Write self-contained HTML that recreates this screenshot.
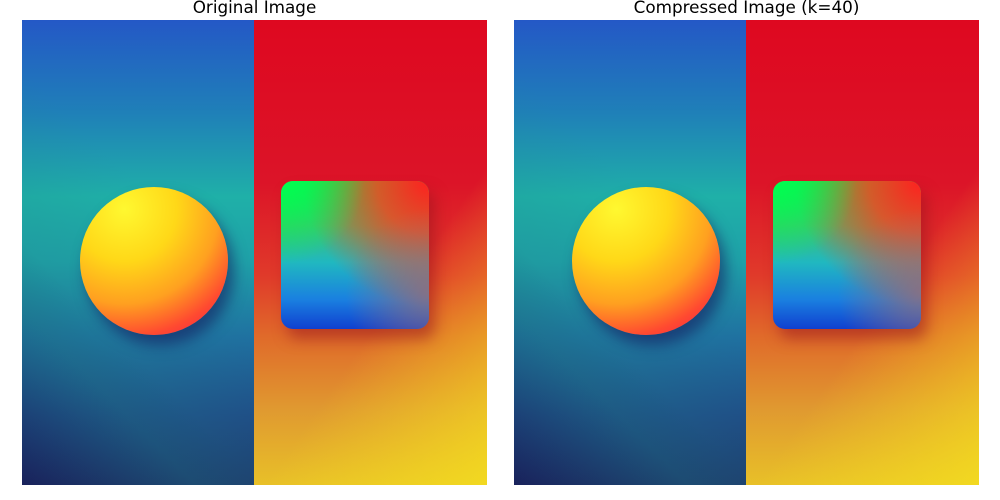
<!DOCTYPE html>
<html><head><meta charset="utf-8"><style>
body{margin:0;width:1000px;height:500px;background:#fff;position:relative;overflow:hidden;font-family:"DejaVu Sans","Liberation Sans",sans-serif}
.title{position:absolute;top:-3px;width:465px;text-align:center;font-size:16.8px;color:#000;line-height:20px}
.img{position:absolute;top:20px;width:465px;height:465px;overflow:hidden}
.lh{position:absolute;left:0;top:0;width:232px;height:465px;
background:linear-gradient(180deg,#2458c6 0%,#1f80b8 20%,#1fb0a8 38%,#1fa0a8 52%,#1f70a2 68%,#1f4486 85%,#1e2a66 100%)}
.lh2{position:absolute;left:0;top:0;width:232px;height:465px;
background:linear-gradient(225deg,rgba(20,150,150,0.0) 40%,rgba(30,140,140,0.35) 75%,rgba(30,140,140,0) 100%),linear-gradient(45deg,rgba(20,25,80,0.5) 0%,rgba(20,25,80,0) 35%)}
.rh{position:absolute;left:232px;top:0;width:233px;height:465px;
background:linear-gradient(180deg,#de0820 0%,#dc1428 35%,#e03a2a 55%,#e06a2a 68%,#e09a30 84%,#e8c028 100%)}
.rh2{position:absolute;left:232px;top:0;width:233px;height:465px;
background:linear-gradient(125deg,rgba(0,0,0,0) 60%,rgba(245,225,30,0.75) 100%)}
.circ{position:absolute;left:58px;top:167px;width:148px;height:148px;border-radius:50%;
background:radial-gradient(circle at 30% 15%,#fff830 0%,#ffd818 32%,#ffa020 58%,#ff4a30 78%,#f01050 100%);
box-shadow:6px 10px 14px rgba(20,20,90,0.55)}
.sq{position:absolute;left:259px;top:161px;width:148px;height:148px;border-radius:12px;overflow:hidden;
background:linear-gradient(180deg,#10e850 0%,#40c070 30%,#20b8c0 55%,#1a80e0 80%,#1040d0 100%);
box-shadow:6px 10px 14px rgba(150,20,30,0.5)}
.sq .a{position:absolute;inset:0;background:radial-gradient(circle at 100% 0%,#ff2020 0%,rgba(255,60,30,0.8) 25%,rgba(200,150,40,0) 60%)}
.sq .b{position:absolute;inset:0;background:radial-gradient(circle at 100% 75%,rgba(150,110,120,0.8) 0%,rgba(150,110,120,0) 45%)}
.sq .c{position:absolute;inset:0;background:radial-gradient(circle at 0% 0%,#00ff50 0%,rgba(0,255,80,0) 40%)}
</style></head><body>
<div class="title" style="left:22px">Original Image</div>
<div class="title" style="left:514px">Compressed Image (k=40)</div>
<div class="img" style="left:22px">
 <div class="lh"></div>
 <div class="lh2"></div>
 <div class="rh"></div>
 <div class="rh2"></div>
 <div class="circ"></div>
 <div class="sq"><div class="a"></div><div class="b"></div><div class="c"></div></div>
</div>
<div class="img" style="left:514px">
 <div class="lh"></div>
 <div class="lh2"></div>
 <div class="rh"></div>
 <div class="rh2"></div>
 <div class="circ"></div>
 <div class="sq"><div class="a"></div><div class="b"></div><div class="c"></div></div>
</div>
</body></html>
